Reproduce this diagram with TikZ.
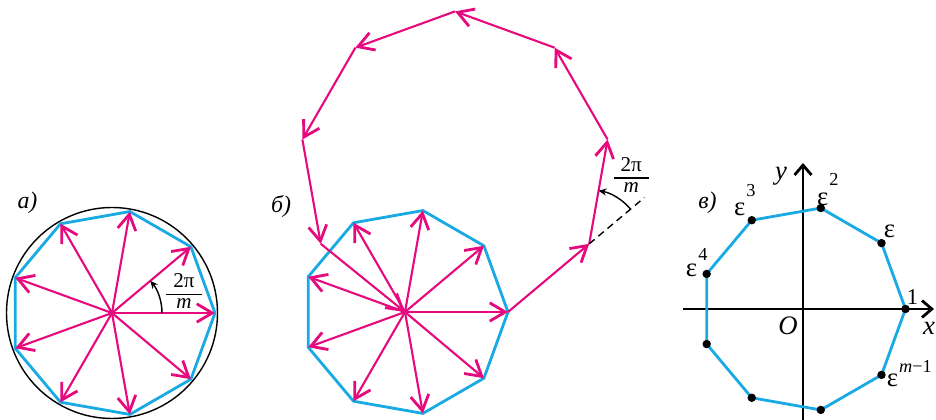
\documentclass[tikz,border=0pt]{standalone}
\usepackage{fontspec}
\setmainfont{Liberation Serif}
\usetikzlibrary{arrows.meta, calc}
\definecolor{vecpink}{RGB}{230,10,126}
\definecolor{polycyan}{RGB}{25,170,228}
\newcommand{\angfrac}{{\setlength{\arrayrulewidth}{1.1pt}\renewcommand{\arraystretch}{0.8}%
  \begin{tabular}{@{\hspace{5pt}}c@{\hspace{5pt}}}2π\\\hline\textit{m}\end{tabular}}}
\newcommand{\sps}[2][13pt]{\kern0.8pt\raisebox{#1}{\fontsize{13}{15}\selectfont #2}}
\tikzset{
  vec/.style = {draw=vecpink, line width=1.5pt, -{Straight Barb[length=11pt, width=13pt, line width=2pt]}},
  poly/.style = {draw=polycyan, line width=2pt},
  ring/.style = {draw=black, line width=1pt},
  axis/.style = {draw=black, line width=1.4pt, -{Straight Barb[length=7pt, width=12pt, line width=2pt]}},
  ang/.style = {draw=black, line width=1pt, -{Stealth[length=5.5pt, width=5pt]}},
  guide/.style = {draw=black, line width=1pt, dash pattern=on 5pt off 3.5pt},
  dot/.style = {circle, fill=black, inner sep=0pt, minimum size=6pt},
  lbl/.style = {font=\fontsize{19}{22}\selectfont\itshape, inner sep=0pt},
  tag/.style = {font=\fontsize{17}{20}\selectfont\itshape, inner sep=0pt},
  eps/.style = {font=\fontsize{19}{22}\selectfont, inner sep=0pt, anchor=base west},
  frac/.style = {font=\fontsize{15}{17}\selectfont, inner sep=0pt}
}

\begin{document}
\begin{tikzpicture}[x=0.025cm, y=0.025cm]
\useasboundingbox (0,0) rectangle (936,420);

% Panel a: vectors in the circle
\coordinate (A) at (112,107);
\foreach \k in {0,...,8} \coordinate (a\k) at ($(A)+(\k*40:103)$);
\draw[ring] (A) circle (105.5);
\draw[poly] (a0) -- (a1) -- (a2) -- (a3) -- (a4) -- (a5) -- (a6) -- (a7) -- (a8) -- cycle;
\foreach \k in {0,...,8} \draw[vec] (A) -- (a\k);
\draw[ang] ($(A)+(0:50)$) arc[start angle=0, end angle=40, radius=50];
\node[frac] (fa) at (184,126) {\angfrac};
\node[tag] (la) at (27.5,217) {а)};

% Panel b: same star, plus the chain of vectors
\coordinate (B) at (405,108);
\foreach \k in {0,...,8} \coordinate (b\k) at ($(B)+(\k*40:103)$);
\draw[poly] (b0) -- (b1) -- (b2) -- (b3) -- (b4) -- (b5) -- (b6) -- (b7) -- (b8) -- cycle;
\foreach \k in {0,...,8} \draw[vec] (B) -- (b\k);

\coordinate (c1) at (b0);
\foreach \j [count=\k from 2] in {1,...,7} \coordinate (c\k) at ($(c\j)+(\j*40:106)$);
\foreach \j [count=\k from 2] in {1,...,7} \draw[vec] (c\j) -- (c\k);
\draw[vec] (c8) -- (B);

% angle between two links
\coordinate (d) at ($(c2)+(40:72)$);
\draw[guide] (c2) -- (d);
\draw[ang] ($(c2)+(40:54)$) arc[start angle=40, end angle=80, radius=54];
\node[frac] (fb) at ($(c2)+(42,66)$) {\angfrac};
\node[tag] (lb) at (281,213.3) {б)};

% Panel v: roots on the plane
\coordinate (C) at (803,111);
\coordinate (xl) at (683,111);
\coordinate (xr) at (934,111);
\coordinate (yb) at (803,0);
\coordinate (yt) at (803,257);
\draw[axis] (xl) -- (xr);
\draw[axis] (yb) -- (yt);
\foreach \k in {0,...,8} \coordinate (e\k) at ($(C)+(\k*40:102.5)$);
\draw[poly] (e0) -- (e1) -- (e2) -- (e3) -- (e4) -- (e5) -- (e6) -- (e7) -- (e8) -- cycle;
\foreach \k in {0,...,8} \node[dot] (p\k) at (e\k) {};

\node[eps, font=\fontsize{16}{18}\selectfont] (l0) at ($(e0)+(1,4)$) {1};
\node[eps] (l1) at ($(e1)+(2,6)$) {ε};
\node[eps] (l2) at ($(e2)+(-4,3)$) {ε\sps[14pt]{2}};
\node[eps] (l3) at ($(e3)+(-18,5)$) {ε\sps{3}};
\node[eps] (l4) at ($(e4)+(-21,-3)$) {ε\sps[11.5pt]{4}};
\node[eps] (l8) at ($(e8)+(5,-12)$) {ε\sps[10pt]{\textit{m}−1}};

\node[lbl] (lo) at (788,94.5) {O};
\node[lbl] (lx) at (929,92) {x};
\node[lbl] (ly) at (781,244) {y};
\node[tag] (lv) at (707.5,217.5) {в)};

\end{tikzpicture}
\end{document}
